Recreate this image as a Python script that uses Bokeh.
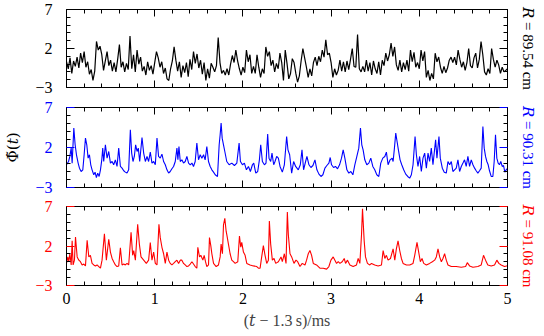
import numpy as np
from bokeh.plotting import figure
from bokeh.models import Range1d, LinearAxis, FixedTicker
from bokeh.layouts import column
from bokeh.embed import file_html
from bokeh.resources import INLINE

FONT = "Liberation Serif, DejaVu Serif"

X_TICKS = [0, 1, 2, 3, 4, 5]
X_MINOR = [0.2, 0.4, 0.6, 0.8, 1.2, 1.4, 1.6, 1.8, 2.2, 2.4, 2.6, 2.8,
           3.2, 3.4, 3.6, 3.8, 4.2, 4.4, 4.6, 4.8]
Y_TICKS = [-3, 2, 7]
Y_MINOR = [-2, -1, 0, 1, 3, 4, 5, 6]
Y_TICK_LABELS = {-3: "\u22123", 2: "2", 7: "7"}
X_LABEL = "(\U0001D461\u2005\u2212\u20051.3\u2009s)/ms"
Y_LABEL = "\u03a6\u0303(\U0001D461)"
R_LABELS = ["\U0001D445 = 89.54 cm", "\U0001D445 = 90.31 cm", "\U0001D445 = 91.08 cm"]
COLORS = ["#000000", "#0000ff", "#ff0000"]

# R = 89.54 cm, sampled every 0.02 ms
BLACK_DT = 0.02
BLACK_V = [
    0.3, -0.6, 0.8, -1.2, 0.4, -0.3, 0.9, -0.5, 1.4, 0.2,
    1.6, -0.4, 0.3, -1.3, -0.7, -2.1, -0.9, 2.9, 1.8, 2.3,
    1.2, -0.8, 0.4, 1.6, -0.2, 0.5, -0.9, 0.2, -1.0, 0.6,
    2.5, -0.4, 0.3, -1.0, 0.1, -0.7, 3.6, -0.6, 1.2, -1.0,
    1.8, 0.0, 0.9, -0.9, -0.3, -1.4, 0.3, -0.8, -0.2, -1.3,
    0.2, 1.6, 0.8, -0.4, 0.3, -1.2, -0.5, -1.9, -2.1, -0.6,
    0.4, 2.2, 0.5, -0.9, 0.3, -1.7, -0.2, -1.1, 0.2, -1.6,
    0.6, -0.7, 1.6, 0.1, 1.3, -0.5, 0.5, -1.3, 0.2, -2.1,
    -0.6, -1.8, 0.1, -0.4, -1.0, -0.2, 3.4, 0.2, -1.2, -0.8,
    -1.4, -0.6, -1.4, 0.0, 1.1, 0.2, 1.8, 0.4, -0.6, -1.4,
    -0.4, -1.1, 1.8, 0.3, 1.2, -1.2, -0.3, -1.2, 1.2, -0.4,
    -1.7, -0.6, -1.2, 2.2, 1.0, 1.6, -0.2, 0.5, -1.0, 0.1,
    -0.6, 1.4, 0.2, -2.1, 1.8, 0.1, -1.9, -1.2, 0.7, 0.2,
    -1.2, -2.3, -1.5, 0.4, 2.0, 0.8, -0.4, -1.7, -0.6, -1.5,
    0.2, 0.9, -0.2, 1.0, 0.3, 1.8, 0.9, 3.1, 1.2, 1.4,
    0.2, -1.7, -0.6, -1.4, -0.8, 0.5, -0.9, 0.3, -1.0, 0.4,
    -0.7, 0.6, 2.0, -0.3, -0.4, 3.8, -0.6, -1.0, -0.3, -1.0,
    0.5, -0.9, 0.2, -1.4, 0.4, -0.6, -1.2, 0.3, -1.4, 0.5,
    -0.2, 1.4, 0.4, 1.2, 2.7, 1.0, 2.2, -0.1, -0.8, 0.5,
    -1.0, 0.2, -0.7, 0.5, -0.9, 1.8, 0.3, 1.5, -0.4, 0.2,
    -0.6, 1.8, 0.4, 1.6, -1.7, -0.8, -2.1, -1.2, -1.9, 1.4,
    0.3, 0.9, -0.4, -1.2, -0.3, -1.1, -0.5, 0.5, 0.9, 0.2,
    0.9, -0.1, 1.8, 0.6, -0.4, 0.3, -0.8, 0.2, 2.0, -0.2,
    -0.5, 0.8, 1.4, -0.5, 0.6, 2.9, 1.2, -1.0, -1.4, -0.6,
    -1.2, 2.0, 0.6, -0.4, 0.5, -0.1, -1.2, -0.4, -1.0, -0.8,
    -0.6,
]

# R = 90.31 cm, (t, value) pairs
BLUE_POINTS = [
    (0.000, -0.16), (0.023, 0.25), (0.038, 0.88), (0.053, 1.92), (0.064, 0.05), (0.083, 4.42), (0.098, 2.34), (0.113, 1.09), (0.132, 0.05), (0.147, -0.58),
    (0.166, -1.00), (0.185, -0.79), (0.200, 1.09), (0.215, 3.17), (0.230, 2.34), (0.245, 0.67), (0.260, 1.09), (0.275, -0.16), (0.290, -0.79), (0.309, -1.41),
    (0.324, -1.08), (0.339, -1.75), (0.354, -1.20), (0.370, -1.62), (0.385, -0.79), (0.400, 0.46), (0.411, 1.92), (0.422, 0.25), (0.441, 2.34), (0.460, 0.67),
    (0.479, 1.50), (0.498, 0.05), (0.517, 0.25), (0.535, -0.16), (0.554, 0.46), (0.573, -0.37), (0.592, 1.92), (0.611, -0.37), (0.630, -0.58), (0.649, -0.91),
    (0.667, -1.08), (0.686, -1.20), (0.705, -0.79), (0.724, 4.21), (0.739, 1.30), (0.754, 0.25), (0.769, 0.88), (0.784, 2.34), (0.800, 1.50), (0.814, 1.92),
    (0.830, 0.25), (0.856, 3.25), (0.875, 1.30), (0.894, 0.25), (0.913, 0.88), (0.931, 0.25), (0.950, 1.42), (0.969, 0.05), (0.988, 0.25), (1.007, -0.16),
    (1.026, 3.17), (1.044, 0.88), (1.063, 0.67), (1.082, 1.17), (1.101, 0.25), (1.120, -0.16), (1.139, -0.79), (1.158, -1.20), (1.176, -1.00), (1.195, -0.66),
    (1.214, -0.37), (1.233, 0.25), (1.252, 1.92), (1.263, 0.46), (1.275, 2.13), (1.290, 0.25), (1.308, 0.46), (1.327, 0.05), (1.346, 0.25), (1.365, 0.88),
    (1.384, 0.05), (1.403, -0.16), (1.422, 0.05), (1.440, -0.37), (1.459, 0.25), (1.478, 2.55), (1.497, 0.46), (1.516, 1.09), (1.535, 0.67), (1.554, 1.09),
    (1.572, 0.46), (1.591, 2.13), (1.610, 0.25), (1.629, -0.37), (1.648, -0.79), (1.667, -1.08), (1.686, -1.41), (1.712, -1.62), (1.731, 2.34), (1.742, 3.59),
    (1.753, 5.05), (1.765, 3.17), (1.780, 2.34), (1.795, 1.50), (1.817, 0.25), (1.844, -0.16), (1.874, 0.05), (1.904, -0.25), (1.931, 0.05), (1.957, 2.55),
    (1.972, 0.25), (1.995, -0.16), (2.017, 0.05), (2.040, -0.79), (2.063, -0.37), (2.085, -1.00), (2.108, -0.16), (2.123, 0.05), (2.146, -1.20), (2.168, -1.00),
    (2.187, 0.46), (2.202, 2.34), (2.221, 0.25), (2.244, -0.16), (2.262, 0.05), (2.281, 3.67), (2.296, 0.67), (2.315, 0.25), (2.330, 1.30), (2.349, -0.16),
    (2.364, 0.25), (2.383, 0.88), (2.402, 0.67), (2.421, -0.37), (2.447, -1.08), (2.470, -0.16), (2.496, 3.38), (2.511, 1.71), (2.530, 1.09), (2.553, -1.20),
    (2.575, 0.25), (2.598, -0.37), (2.628, -0.79), (2.651, -0.16), (2.670, 1.71), (2.688, -0.79), (2.711, 0.25), (2.726, 0.88), (2.749, -0.16), (2.771, -0.50),
    (2.794, -0.25), (2.817, 0.46), (2.839, -0.79), (2.862, -1.33), (2.885, -1.62), (2.907, -1.41), (2.930, -0.58), (2.952, -0.25), (2.975, 0.05), (2.990, 0.75),
    (3.005, -0.16), (3.028, -0.50), (3.050, -0.37), (3.073, -0.66), (3.096, -0.16), (3.118, 0.67), (3.137, 1.71), (3.156, 0.67), (3.179, -0.79), (3.201, -1.20),
    (3.224, -1.00), (3.247, -1.41), (3.269, -0.16), (3.292, 0.88), (3.314, 1.92), (3.333, 4.42), (3.348, 2.34), (3.363, 1.71), (3.382, 0.46), (3.405, -0.16),
    (3.428, 0.05), (3.450, 0.67), (3.473, -0.37), (3.495, -0.79), (3.518, -1.41), (3.541, -1.62), (3.563, 0.05), (3.586, 0.67), (3.609, 0.88), (3.627, 1.42),
    (3.646, -0.16), (3.669, 0.46), (3.692, 0.67), (3.703, 0.25), (3.718, 1.92), (3.733, 3.80), (3.748, 2.75), (3.763, 1.71), (3.782, 0.46), (3.801, -0.16),
    (3.823, -0.79), (3.846, -1.33), (3.869, -1.62), (3.891, -1.83), (3.910, -1.41), (3.929, -0.16), (3.952, 3.38), (3.967, 1.09), (3.985, -0.37), (4.004, 0.88),
    (4.023, -1.00), (4.042, 0.67), (4.061, 1.30), (4.080, -0.58), (4.099, 1.30), (4.117, 0.25), (4.136, 1.92), (4.155, -0.16), (4.185, 2.96), (4.200, 0.67),
    (4.223, 3.38), (4.238, 0.67), (4.261, -0.58), (4.283, -1.08), (4.306, -1.20), (4.325, 0.25), (4.344, -0.16), (4.363, 0.25), (4.381, -1.00), (4.400, -0.79),
    (4.419, -0.58), (4.438, 0.46), (4.457, -1.00), (4.476, -0.37), (4.495, 0.05), (4.513, 0.46), (4.532, -0.37), (4.551, 0.88), (4.570, -0.37), (4.589, 0.46),
    (4.608, -0.16), (4.627, -0.58), (4.645, -0.91), (4.664, -1.20), (4.683, -0.91), (4.702, -0.58), (4.721, 4.63), (4.736, 1.92), (4.751, 0.88), (4.766, 0.25),
    (4.781, -0.16), (4.796, -0.91), (4.815, -1.62), (4.834, -1.62), (4.849, 0.25), (4.864, 3.59), (4.879, 0.67), (4.894, 0.05), (4.909, -0.16), (4.924, 0.25),
    (4.940, -0.37), (4.955, -0.25), (4.970, -1.08), (4.985, -0.79), (5.000, -0.60),
]

# R = 91.08 cm, (t, value) pairs
RED_POINTS = [
    (0.000, -0.20), (0.015, 0.62), (0.026, 0.01), (0.038, 1.02), (0.053, -0.40), (0.064, 2.65), (0.075, -0.40), (0.090, 0.21), (0.102, 3.14), (0.121, 0.62),
    (0.140, 0.21), (0.158, 0.01), (0.177, -0.40), (0.196, -0.28), (0.215, -0.52), (0.234, 2.73), (0.253, 0.62), (0.271, 0.82), (0.290, -0.20), (0.309, -0.40),
    (0.328, -0.52), (0.347, -0.40), (0.366, -0.60), (0.385, -0.81), (0.403, 0.21), (0.430, 3.54), (0.452, 0.21), (0.479, 2.85), (0.498, 1.23), (0.517, 0.42),
    (0.535, 0.01), (0.554, -0.40), (0.573, -0.60), (0.592, -0.52), (0.611, 1.76), (0.630, -0.40), (0.649, -0.28), (0.667, -0.40), (0.686, -0.20), (0.705, -0.40),
    (0.732, 3.75), (0.750, 0.82), (0.762, 1.43), (0.781, 0.21), (0.807, 4.76), (0.826, 2.24), (0.845, 0.62), (0.875, 0.21), (0.905, -0.20), (0.931, 0.21),
    (0.950, 2.45), (0.969, 0.21), (0.988, 1.23), (1.007, -0.20), (1.026, -0.40), (1.048, 4.76), (1.063, 3.06), (1.082, 1.84), (1.101, 1.02), (1.120, -0.20),
    (1.139, 1.23), (1.158, 0.21), (1.176, -0.20), (1.195, -0.40), (1.214, -0.20), (1.233, 0.01), (1.252, 0.21), (1.271, -0.20), (1.290, 0.21), (1.308, 0.21),
    (1.327, -0.20), (1.346, -0.40), (1.365, -0.60), (1.384, -0.52), (1.403, -0.28), (1.422, 0.01), (1.440, -0.28), (1.459, -0.60), (1.478, -0.81), (1.489, 1.84),
    (1.508, 0.62), (1.523, 0.82), (1.546, 0.21), (1.561, 0.82), (1.576, 0.01), (1.591, -0.60), (1.610, -0.40), (1.621, 3.06), (1.636, 2.04), (1.648, 1.02),
    (1.667, -0.20), (1.697, -0.60), (1.723, -0.40), (1.742, 0.62), (1.753, 2.24), (1.768, 1.02), (1.780, 4.68), (1.795, 5.50), (1.810, 3.87), (1.817, 3.46),
    (1.836, 2.24), (1.855, 1.02), (1.874, 0.21), (1.893, 0.01), (1.912, -0.20), (1.942, 0.01), (1.961, 3.26), (1.976, 1.84), (1.987, 2.45), (2.006, 1.23),
    (2.025, 0.82), (2.044, -0.20), (2.081, -0.40), (2.119, -0.52), (2.157, -0.60), (2.176, -0.81), (2.195, -0.81), (2.213, 0.62), (2.232, 2.04), (2.251, 0.82),
    (2.270, -0.20), (2.289, 0.21), (2.300, 5.17), (2.315, 2.24), (2.334, 0.21), (2.353, 0.42), (2.372, -0.20), (2.402, 0.01), (2.432, 0.62), (2.447, 0.01),
    (2.470, 1.02), (2.489, -0.20), (2.504, 6.31), (2.515, 3.46), (2.534, 1.02), (2.553, 0.62), (2.579, -0.20), (2.602, 0.21), (2.621, 0.01), (2.647, -0.60),
    (2.673, -0.20), (2.704, -0.40), (2.722, 0.21), (2.741, 1.02), (2.760, 1.43), (2.779, 0.82), (2.798, -0.20), (2.835, -0.40), (2.873, -0.81), (2.911, -0.81),
    (2.949, -0.93), (2.975, -0.60), (2.998, 0.21), (3.024, 0.62), (3.043, 0.21), (3.062, -0.20), (3.081, 0.01), (3.100, -0.20), (3.126, 0.01), (3.149, 0.42),
    (3.164, -0.20), (3.186, 0.21), (3.213, -0.40), (3.250, -0.60), (3.288, -0.40), (3.307, 0.42), (3.326, -0.20), (3.345, 3.46), (3.356, 6.72), (3.375, 2.65),
    (3.390, 0.62), (3.412, -0.20), (3.439, -0.40), (3.458, -0.20), (3.495, -0.40), (3.533, -0.52), (3.571, -0.40), (3.590, 1.43), (3.609, 0.42), (3.627, 0.82),
    (3.646, 0.21), (3.673, 0.42), (3.703, 1.63), (3.722, 0.21), (3.740, 1.63), (3.759, 2.65), (3.778, 1.43), (3.797, 0.42), (3.816, -0.20), (3.854, -0.40),
    (3.891, -0.40), (3.929, -0.20), (3.948, 0.82), (3.974, 2.45), (3.993, 1.23), (4.012, 0.01), (4.031, 0.42), (4.050, -0.20), (4.080, -0.40), (4.117, -0.20),
    (4.148, 0.01), (4.174, 0.21), (4.193, 0.62), (4.212, 1.63), (4.231, 0.62), (4.250, 0.01), (4.268, 0.42), (4.287, 1.02), (4.306, 0.21), (4.325, -0.40),
    (4.363, -0.60), (4.419, -0.60), (4.476, -0.68), (4.525, -0.60), (4.544, -0.11), (4.570, -0.52), (4.608, -0.68), (4.664, -0.60), (4.702, -0.40), (4.728, 0.82),
    (4.751, 0.21), (4.777, -0.40), (4.815, -0.52), (4.853, -0.40), (4.879, 0.21), (4.902, -0.20), (4.928, -0.40), (4.966, -0.60), (5.000, -0.50),
]

black_t = np.arange(len(BLACK_V)) * BLACK_DT
blue_t, blue_v = zip(*BLUE_POINTS)
red_t, red_v = zip(*RED_POINTS)


def style_axis(ax, ticks, minor, major_color, labels, tick_in):
    ax.ticker = FixedTicker(ticks=ticks, minor_ticks=minor)
    ax.axis_line_color = "black"
    ax.axis_line_width = 1
    ax.major_tick_in = tick_in
    ax.major_tick_out = 0
    ax.minor_tick_in = 4
    ax.minor_tick_out = 0
    ax.major_tick_line_color = major_color
    ax.major_tick_line_width = 1
    ax.minor_tick_line_color = "black"
    ax.major_label_text_font = FONT
    if labels:
        ax.major_label_text_font_size = "16px"
    else:
        ax.major_label_text_font_size = "1px"
        ax.major_label_text_color = None
        ax.major_label_standoff = 0


def panel(t, v, color, rlabel, top, fh, bottom, last=False, ylabel=None, lw=1.1):
    p = figure(frame_width=441, frame_height=fh,
               x_range=Range1d(0, 5), y_range=Range1d(-3, 7),
               output_backend="svg", toolbar_location=None,
               x_axis_location=None, y_axis_location=None,
               min_border_left=66, min_border_right=37,
               min_border_top=top, min_border_bottom=bottom)
    p.outline_line_color = "black"
    p.background_fill_color = "white"
    p.border_fill_color = "white"
    p.grid.grid_line_color = None
    p.grid.visible = False
    p.line(list(t), list(v), line_color=color, line_width=lw)

    xb = LinearAxis()
    style_axis(xb, X_TICKS, X_MINOR, "black", last, 7)
    if last:
        xb.major_label_standoff = 7
        xb.major_label_text_color = "black"
        xb.axis_label = X_LABEL
        xb.axis_label_text_font = FONT
        xb.axis_label_text_font_style = "normal"
        xb.axis_label_text_font_size = "16px"
        xb.axis_label_standoff = 5
    p.add_layout(xb, "below")

    xa = LinearAxis()
    style_axis(xa, X_TICKS, X_MINOR, "black", False, 7)
    p.add_layout(xa, "above")

    yl = LinearAxis()
    style_axis(yl, Y_TICKS, Y_MINOR, color, True, 8)
    yl.major_label_overrides = Y_TICK_LABELS
    yl.major_label_text_color = color
    yl.major_label_standoff = 14
    if ylabel:
        yl.axis_label = ylabel
        yl.axis_label_text_font = "DejaVu Serif"
        yl.axis_label_text_font_style = "normal"
        yl.axis_label_text_font_size = "15px"
        yl.axis_label_text_color = "black"
        yl.axis_label_standoff = 10
    p.add_layout(yl, "left")

    yr = LinearAxis()
    style_axis(yr, Y_TICKS, Y_MINOR, color, False, 8)
    yr.axis_label = rlabel
    yr.axis_label_text_font = FONT
    yr.axis_label_text_font_style = "normal"
    yr.axis_label_text_font_size = "15px"
    yr.axis_label_text_color = color
    yr.axis_label_standoff = 12
    p.add_layout(yr, "right")
    return p


p1 = panel(black_t, BLACK_V, COLORS[0], R_LABELS[0], 9, 78, 10, lw=1.2)
p2 = panel(blue_t, blue_v, COLORS[1], R_LABELS[1], 10, 80, 9, ylabel=Y_LABEL)
p3 = panel(red_t, red_v, COLORS[2], R_LABELS[2], 10, 79, 49, last=True)

layout = column(p1, p2, p3, spacing=0)
open("out.html", "w").write(file_html(layout, INLINE))
